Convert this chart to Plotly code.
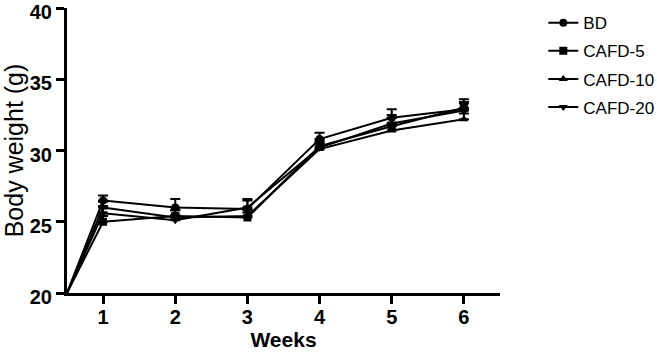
import plotly.graph_objects as go

weeks = [1, 2, 3, 4, 5, 6]
baseline_week = 0.5
baseline_weight = 20

series_names = ["BD", "CAFD-5", "CAFD-10", "CAFD-20"]
bd = [26.5, 26.0, 25.9, 30.8, 32.3, 32.9]
cafd5 = [25.0, 25.4, 25.3, 30.3, 31.7, 33.0]
cafd10 = [26.0, 25.3, 25.4, 30.1, 31.4, 32.2]
cafd20 = [25.6, 25.1, 26.0, 30.2, 31.9, 32.8]

bd_err = [0.35, 0.6, 0.6, 0.45, 0.6, 0.5]
cafd5_err = [0.4, 0.4, 0.35, 0.4, 0.6, 0.6]
cafd10_err = [0.4, 0.5, 0.4, 0.4, 0.5, 0.4]
cafd20_err = [0.5, 0.4, 0.6, 0.4, 0.6, 0.5]

values = [bd, cafd5, cafd10, cafd20]
errors = [bd_err, cafd5_err, cafd10_err, cafd20_err]
symbols = ["circle", "square", "triangle-up", "triangle-down"]

FONT = "Liberation Sans, Arial, sans-serif"

fig = go.Figure()
for name, vals, errs, sym in zip(series_names, values, errors, symbols):
    fig.add_trace(go.Scatter(
        x=[baseline_week, weeks[0]], y=[baseline_weight, vals[0]],
        mode="lines", line=dict(color="black", width=2),
        showlegend=False, hoverinfo="skip", cliponaxis=False,
    ))
    fig.add_trace(go.Scatter(
        x=weeks, y=vals, name=name, legendgroup=name,
        mode="lines+markers",
        line=dict(color="black", width=2),
        marker=dict(symbol=sym, size=8, color="black"),
        error_y=dict(type="data", array=errs, arrayminus=[0] * len(errs),
                     symmetric=False, color="black", thickness=2, width=5),
        cliponaxis=False,
    ))

fig.update_layout(
    template="none",
    width=657, height=352,
    margin=dict(l=67, r=157, t=8, b=59, pad=0, autoexpand=False),
    paper_bgcolor="white", plot_bgcolor="white",
    font=dict(family=FONT, color="black"),
    showlegend=True,
    legend=dict(
        x=1.10, xanchor="left", y=1.01, yanchor="top",
        font=dict(size=17, family=FONT, color="black"),
        traceorder="grouped", tracegroupgap=3,
        itemwidth=30, bgcolor="rgba(0,0,0,0)", borderwidth=0,
    ),
    xaxis=dict(
        range=[0.5, 6.5], tickmode="array", tickvals=weeks,
        ticktext=[str(w) for w in weeks],
        showline=True, linecolor="black", linewidth=3,
        ticks="outside", ticklen=8, tickwidth=3, tickcolor="black",
        showgrid=False, zeroline=False, automargin=False,
        ticklabelstandoff=-4,
        tickfont=dict(size=20, family=FONT, weight="bold"),
        title=dict(text="<b>Weeks</b>", font=dict(size=21, family=FONT), standoff=4),
    ),
    yaxis=dict(
        range=[20, 40], tickmode="array", tickvals=[20, 25, 30, 35, 40],
        showline=True, linecolor="black", linewidth=3,
        ticks="outside", ticklen=8, tickwidth=3, tickcolor="black",
        showgrid=False, zeroline=False, automargin=False,
        ticklabeloverflow="allow", ticklabelshift=4,
        tickfont=dict(size=20, family=FONT, weight="bold"),
        title=dict(text="Body weight (g)", font=dict(size=25, family=FONT), standoff=2),
    ),
)

fig.write_html(
    "out.html",
    config={"displayModeBar": False},
    post_script="document.body.style.margin='0';document.body.style.padding='0';",
)
